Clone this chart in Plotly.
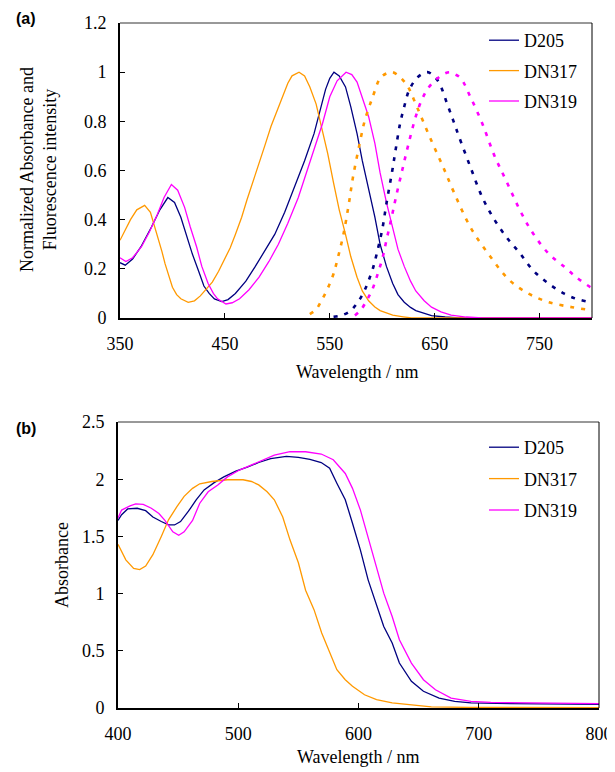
import plotly.graph_objects as go

# ---------------- Panel (a): normalized absorbance (solid) and fluorescence (dotted)
d205_abs_x = [350, 355, 362, 370, 380, 388, 395.6, 402, 408, 414, 419, 425, 430, 435, 440, 447, 453, 460, 470, 479,
              488, 497.5, 507, 516, 526, 535, 541, 546, 550, 554, 559, 565, 570, 576, 581, 587, 593, 598, 604, 610,
              615, 621, 627, 632, 640, 647, 660, 673, 700, 800]
d205_abs_y = [0.225, 0.215, 0.24, 0.29, 0.37, 0.44, 0.49, 0.47, 0.41, 0.33, 0.26, 0.19, 0.13, 0.10, 0.078, 0.067,
              0.075, 0.10, 0.15, 0.21, 0.275, 0.34, 0.43, 0.53, 0.64, 0.75, 0.85, 0.93, 0.975, 1.0, 0.985, 0.94,
              0.86, 0.75, 0.64, 0.53, 0.41, 0.30, 0.21, 0.14, 0.095, 0.064, 0.043, 0.03, 0.018, 0.01, 0.004, 0.0,
              0.0, 0.0]

dn317_abs_x = [350, 355, 360, 366, 373.5, 379, 385.5, 390, 393, 397, 400, 404, 408, 415, 421, 426.6, 432, 438, 444,
               449, 455, 460, 466, 471, 477, 482.6, 488, 494, 500, 505, 510, 514, 520.7, 526, 531, 537, 542, 548,
               553.6, 559, 565, 570, 576, 581, 587, 593, 598, 604, 610, 620, 628, 800]
dn317_abs_y = [0.316, 0.36, 0.40, 0.44, 0.458, 0.43, 0.34, 0.27, 0.22, 0.16, 0.125, 0.095, 0.078, 0.064, 0.07, 0.09,
               0.115, 0.146, 0.19, 0.234, 0.285, 0.34, 0.41, 0.48, 0.555, 0.63, 0.70, 0.78, 0.845, 0.90, 0.955,
               0.985, 1.0, 0.985, 0.94, 0.87, 0.78, 0.67, 0.55, 0.44, 0.34, 0.25, 0.166, 0.11, 0.07, 0.045, 0.03,
               0.02, 0.012, 0.005, 0.0, 0.0]

dn319_abs_x = [350, 355.6, 362, 370.5, 378, 385.5, 392, 399, 405, 411.6, 417, 423, 428, 434, 439, 443, 451, 457, 464,
               473, 482.6, 492, 501, 510, 520, 527, 535, 543, 550, 557, 565.5, 571, 576, 581, 587, 593, 598, 604,
               609.6, 615, 621, 627, 632, 640, 647, 656, 665.7, 680, 695.5, 800]
dn319_abs_y = [0.245, 0.23, 0.245, 0.29, 0.35, 0.42, 0.49, 0.543, 0.52, 0.45, 0.37, 0.29, 0.21, 0.14, 0.10, 0.078,
               0.057, 0.062, 0.078, 0.115, 0.166, 0.23, 0.30, 0.385, 0.49, 0.58, 0.68, 0.79, 0.90, 0.965, 1.0, 0.99,
               0.96, 0.90, 0.82, 0.71, 0.59, 0.47, 0.37, 0.28, 0.21, 0.15, 0.11, 0.07, 0.044, 0.025, 0.012, 0.004,
               0.0, 0.0]

d205_fl_x = [553.6, 562, 570, 575, 579.7, 584, 587, 591, 594.7, 600, 604, 609.6, 613, 617, 621, 626, 634, 643, 649,
             654.5, 662, 668, 673, 684, 695.5, 707, 720, 731, 744, 759, 774, 785, 798, 800]
d205_fl_y = [0.005, 0.012, 0.03, 0.055, 0.084, 0.12, 0.152, 0.20, 0.26, 0.36, 0.465, 0.60, 0.69, 0.79, 0.86, 0.93,
             0.98, 1.0, 0.985, 0.955, 0.87, 0.80, 0.74, 0.615, 0.49, 0.40, 0.32, 0.265, 0.193, 0.139, 0.098, 0.078,
             0.064, 0.062]

dn317_fl_x = [531, 537, 542, 548, 553.6, 558, 563, 568, 572, 578, 583.5, 591, 598, 604, 609.6, 617, 624.6, 630, 636,
              647, 658, 669, 684, 703, 721.7, 740, 759, 781, 798, 800]
dn317_fl_y = [0.016, 0.035, 0.07, 0.12, 0.18, 0.25, 0.34, 0.46, 0.57, 0.70, 0.805, 0.90, 0.975, 0.995, 1.0, 0.98,
              0.94, 0.89, 0.83, 0.72, 0.615, 0.505, 0.37, 0.25, 0.152, 0.098, 0.064, 0.044, 0.032, 0.03]

dn319_fl_x = [574, 580, 585, 590, 594.7, 600, 604, 609, 613, 619, 624.6, 632, 637, 643, 652.6, 663.8, 670, 675, 684,
              695.5, 707, 718, 733, 744, 759, 774, 785, 798, 800]
dn319_fl_y = [0.01, 0.035, 0.07, 0.11, 0.166, 0.24, 0.316, 0.41, 0.49, 0.60, 0.70, 0.82, 0.88, 0.93, 0.975, 1.0,
              0.99, 0.975, 0.90, 0.79, 0.66, 0.56, 0.424, 0.343, 0.26, 0.207, 0.166, 0.127, 0.123]

# ---------------- Panel (b): absorbance of films
d205_b_x = [400, 403, 408, 416, 423, 429, 436, 442, 447, 452, 458.6, 465, 471.6, 480, 488, 498, 507.5, 517, 527, 540,
            550, 559.6, 569, 576, 582, 589, 595, 601.6, 608, 614.7, 621, 628, 634, 644, 654, 667, 680, 693.5, 726, 800]
d205_b_y = [1.64, 1.69, 1.74, 1.746, 1.725, 1.67, 1.63, 1.60, 1.60, 1.63, 1.72, 1.82, 1.906, 1.97, 2.02, 2.07, 2.105,
            2.146, 2.18, 2.20, 2.19, 2.174, 2.146, 2.096, 1.965, 1.82, 1.615, 1.38, 1.12, 0.917, 0.713, 0.568, 0.393,
            0.233, 0.146, 0.087, 0.058, 0.044, 0.038, 0.032]

dn317_b_x = [400, 406.5, 413, 418, 423, 429, 436, 442, 449, 455, 462, 468, 478, 491, 504, 511, 517, 524, 530, 537,
             543, 550, 556, 563, 569.4, 576, 582, 589, 595, 605, 615, 628, 647.6, 660.6, 693, 800]
dn317_b_y = [1.43, 1.295, 1.22, 1.21, 1.24, 1.34, 1.50, 1.645, 1.76, 1.85, 1.92, 1.96, 1.98, 1.995, 1.995, 1.98, 1.95,
             1.89, 1.82, 1.67, 1.47, 1.27, 1.03, 0.86, 0.655, 0.48, 0.335, 0.247, 0.19, 0.116, 0.073, 0.044, 0.02,
             0.009, 0.005, 0.003]

dn319_b_x = [400, 403, 410, 414.7, 421, 427.7, 434, 439, 445.6, 450.5, 455, 462, 468, 475, 483, 491, 501, 511, 520.6,
             530, 543, 556, 569, 579, 589, 595, 601.6, 608, 614.7, 621, 628, 634, 644, 654, 664, 677, 693.5, 710,
             758.6, 800]
dn319_b_y = [1.66, 1.73, 1.767, 1.784, 1.78, 1.746, 1.70, 1.64, 1.54, 1.51, 1.54, 1.64, 1.79, 1.89, 1.95, 2.02, 2.08,
             2.125, 2.17, 2.21, 2.24, 2.24, 2.22, 2.17, 2.05, 1.92, 1.73, 1.50, 1.24, 1.004, 0.80, 0.597, 0.393,
             0.247, 0.16, 0.087, 0.058, 0.049, 0.044, 0.038]

names = ["D205", "DN317", "DN319"]
colors = ["#000080", "#FF9900", "#FF00FF"]

SERIF = "Liberation Serif"
SANS = "Liberation Sans"
fig = go.Figure()

abs_sets = [(d205_abs_x, d205_abs_y), (dn317_abs_x, dn317_abs_y), (dn319_abs_x, dn319_abs_y)]
fl_sets = [(d205_fl_x, d205_fl_y), (dn317_fl_x, dn317_fl_y), (dn319_fl_x, dn319_fl_y)]
b_sets = [(d205_b_x, d205_b_y), (dn317_b_x, dn317_b_y), (dn319_b_x, dn319_b_y)]

for i, (n, c) in enumerate(zip(names, colors)):
    fig.add_trace(go.Scatter(x=abs_sets[i][0], y=abs_sets[i][1], mode="lines", name=n,
                             line=dict(color=c, width=1.3), xaxis="x", yaxis="y",
                             legend="legend", legendgroup="a" + n))
for i, (n, c) in enumerate(zip(names, colors)):
    fig.add_trace(go.Scatter(x=fl_sets[i][0], y=fl_sets[i][1], mode="lines", name=n + " fl",
                             line=dict(color=c, width=2.6, dash="4px,7px", shape="spline"),
                             xaxis="x", yaxis="y", showlegend=False, legendgroup="a" + n))
for i, (n, c) in enumerate(zip(names, colors)):
    fig.add_trace(go.Scatter(x=b_sets[i][0], y=b_sets[i][1], mode="lines", name=n,
                             line=dict(color=c, width=1.3), xaxis="x2", yaxis="y2",
                             legend="legend2", legendgroup="b" + n))

W, H = 615, 772
OFF = 8  # the page body adds an 8px margin around the figure


def px_x(p):
    return (p - OFF) / W


def px_y(p):
    return 1 - (p - OFF) / H


tickfont = dict(family=SERIF, size=18, color="black")
axis_common = dict(showline=True, linecolor="black", linewidth=2, ticks="inside", ticklen=5,
                   tickcolor="black", tickwidth=1, showgrid=False, zeroline=False, tickfont=tickfont,
                   mirror=False, automargin=False)

fig.update_layout(
    width=W, height=H, margin=dict(l=0, r=0, t=0, b=0, pad=0), autosize=False,
    paper_bgcolor="white", plot_bgcolor="white",
    font=dict(family=SERIF, size=17, color="black"),
    xaxis=dict(domain=[px_x(120), px_x(592)], range=[350, 800], tick0=350, dtick=100, anchor="y",
               ticklabelstandoff=8, **axis_common),
    yaxis=dict(domain=[px_y(318), px_y(23)], range=[0, 1.2], dtick=0.2, anchor="x",
               ticklabelstandoff=8, **axis_common),
    xaxis2=dict(domain=[px_x(118), px_x(599)], range=[400, 800], tick0=400, dtick=100, anchor="y2",
                ticklabelstandoff=8, **axis_common),
    yaxis2=dict(domain=[px_y(708), px_y(422)], range=[0, 2.5], dtick=0.5, anchor="x2",
                ticklabelstandoff=8, **axis_common),
    legend=dict(x=px_x(484), y=px_y(22), xanchor="left", yanchor="top", bgcolor="rgba(0,0,0,0)",
                font=dict(family=SERIF, size=18), itemwidth=30, tracegroupgap=4),
    legend2=dict(x=px_x(484), y=px_y(429), xanchor="left", yanchor="top", bgcolor="rgba(0,0,0,0)",
                 font=dict(family=SERIF, size=18), itemwidth=30, tracegroupgap=5),
    showlegend=True,
)

# thin top/right frame lines
for xr, yr in (("x domain", "y domain"), ("x2 domain", "y2 domain")):
    fig.add_shape(type="line", xref=xr, yref=yr, x0=0, x1=1, y0=1, y1=1, line=dict(color="#333333", width=1))
    fig.add_shape(type="line", xref=xr, yref=yr, x0=1, x1=1, y0=0, y1=1, line=dict(color="black", width=1))


def label(text, x, y, size=18, family=SERIF, angle=0):
    fig.add_annotation(text=text, xref="paper", yref="paper", x=px_x(x), y=px_y(y), xanchor="center",
                       yanchor="middle", textangle=angle, showarrow=False,
                       font=dict(family=family, size=size, color="black"))


# axis titles and panel labels
label("Wavelength / nm", 357, 372)
label("Wavelength / nm", 358, 757)
label("Normalized Absorbance and<br>Fluorescence intensity", 39, 170, angle=-90)
label("Absorbance", 62, 565, angle=-90)
label("<b>(a)</b>", 26, 18, size=16, family=SANS)
label("<b>(b)</b>", 26, 428, size=16, family=SANS)

fig.write_html("out.html")
